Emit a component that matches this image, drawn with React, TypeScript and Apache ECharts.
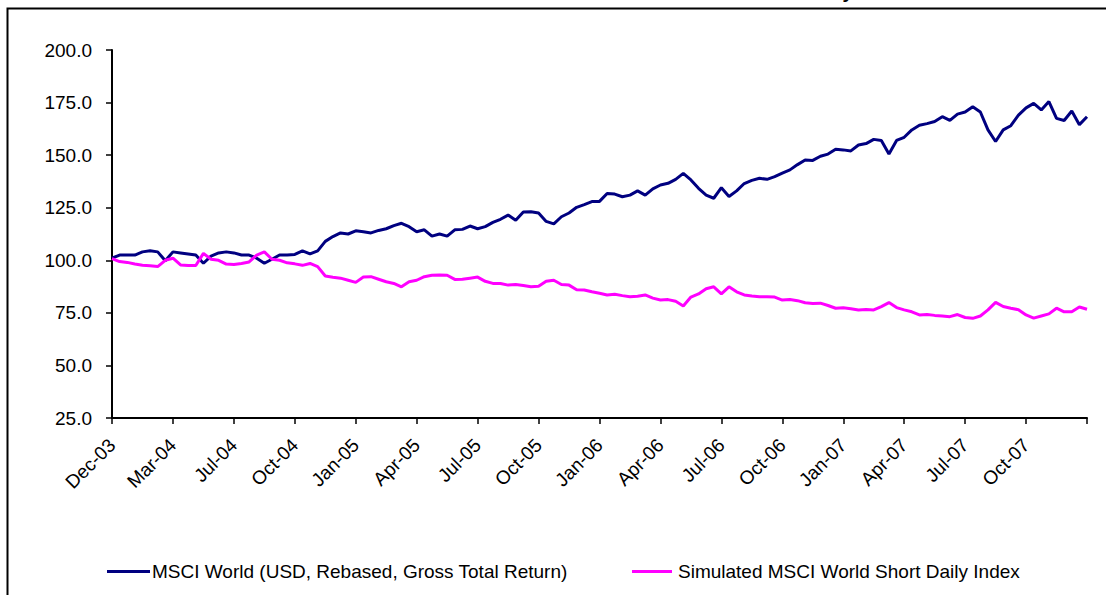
import React, { useEffect, useRef } from "react";
import * as echarts from "echarts";

const tickLabels = [
  "Dec-03", "Mar-04", "Jul-04", "Oct-04", "Jan-05", "Apr-05", "Jul-05", "Oct-05",
  "Jan-06", "Apr-06", "Jul-06", "Oct-06", "Jan-07", "Apr-07", "Jul-07", "Oct-07",
];

const msciWorld = [
  101, 102.5, 102.5, 102.5, 104, 104.5, 104, 99.8, 104, 103.5, 103, 102.5, 98.6, 102, 103.5, 104,
  103.5, 102.5, 102.5, 101, 98.6, 100.5, 102.5, 102.5, 102.8, 104.5, 103, 104.5, 109, 111.3, 113, 112.5,
  114, 113.6, 113, 114.2, 115, 116.5, 117.6, 116, 113.6, 114.5, 111.5, 112.5, 111.5, 114.5, 114.7, 116.3,
  115, 116, 118, 119.5, 121.5, 119, 123, 123.1, 122.5, 118.5, 117.3, 120.7, 122.5, 125.2, 126.5, 127.9,
  128, 131.8, 131.5, 130.2, 131, 133, 131, 134, 135.8, 136.6, 138.5, 141.3, 138.2, 134.2, 131, 129.5,
  134.5, 130.3, 133, 136.5, 138, 139, 138.5, 139.8, 141.5, 143, 145.5, 147.7, 147.5, 149.5, 150.5, 152.8,
  152.5, 152, 154.8, 155.5, 157.5, 157, 150.5, 157, 158.5, 162, 164.2, 165, 166, 168.3, 166.5, 169.5,
  170.5, 173, 170.5, 162, 156.5, 162, 164, 169, 172.5, 174.6, 171.5, 175.5, 167.5, 166.5, 171, 164.5,
  168.3,
];

const shortDaily = [
  100.8, 99.4, 99, 98.2, 97.6, 97.4, 97, 100, 101, 97.8, 97.5, 97.5, 103.3, 100.5, 100, 98.2,
  98, 98.5, 99.2, 102.5, 104, 100.5, 100, 98.8, 98.3, 97.6, 98.5, 97, 92.5, 91.9, 91.5, 90.5,
  89.5, 92, 92.2, 91, 89.8, 89, 87.4, 89.8, 90.5, 92.2, 92.9, 93, 92.9, 90.9, 91, 91.5,
  92, 90, 89, 89, 88.2, 88.5, 88, 87.4, 87.6, 90, 90.5, 88.5, 88.2, 86, 85.9, 85,
  84.3, 83.5, 83.8, 83.2, 82.7, 82.9, 83.5, 82, 81.1, 81.3, 80.5, 78.3, 82.5, 84, 86.5, 87.4,
  84, 87.4, 85, 83.5, 83, 82.7, 82.7, 82.5, 81.1, 81.3, 80.8, 79.8, 79.5, 79.6, 78.5, 77.2,
  77.4, 77, 76.4, 76.6, 76.4, 78, 79.9, 77.5, 76.4, 75.5, 74, 74.2, 73.8, 73.5, 73.2, 74.2,
  72.8, 72.4, 73.5, 76.4, 80, 78, 77.2, 76.5, 74, 72.5, 73.5, 74.5, 77.2, 75.5, 75.5, 77.8,
  76.7,
];

const seriesNames = [
  "MSCI World (USD, Rebased, Gross Total Return)",
  "Simulated MSCI World Short Daily Index",
];

const POINTS_PER_TICK = 8;
const FONT = "'Liberation Sans', Arial, sans-serif";

export default function App() {
  const ref = useRef<HTMLDivElement>(null);
  useEffect(() => {
    document.body.style.margin = "0";
    const chart = echarts.init(ref.current!, null, { renderer: "svg" });
    const categories = msciWorld.map((_, i) => String(i));
    chart.setOption({
      animation: false,
      backgroundColor: "#ffffff",
      textStyle: { fontFamily: FONT },
      grid: { left: 112, right: 19, top: 50, bottom: 177, containLabel: false },
      graphic: [
        {
          type: "rect",
          shape: { x: 7.5, y: 8.5, width: 1300, height: 800 },
          style: { fill: "none", stroke: "#000000", lineWidth: 2 },
          silent: true,
        },
        {
          type: "text",
          x: 853,
          y: 1,
          style: {
            text: "MSCI World vs. Simulated MSCI World Short Daily",
            fontFamily: FONT,
            fontSize: 19,
            fontWeight: "bold",
            fill: "#000000",
            align: "right",
            verticalAlign: "bottom",
          },
        },
      ],
      xAxis: {
        type: "category",
        data: categories,
        boundaryGap: false,
        axisLine: { lineStyle: { color: "#000000", width: 2 } },
        axisTick: {
          interval: POINTS_PER_TICK - 1,
          length: 6,
          lineStyle: { color: "#000000", width: 1.5 },
        },
        axisLabel: {
          interval: POINTS_PER_TICK - 1,
          rotate: 45,
          margin: 24,
          color: "#000000",
          fontSize: 19,
          fontFamily: FONT,
          formatter: (v: string) => {
            const i = Number(v);
            return i % POINTS_PER_TICK === 0 ? tickLabels[i / POINTS_PER_TICK] ?? "" : "";
          },
        },
        splitLine: { show: false },
      },
      yAxis: {
        type: "value",
        min: 25,
        max: 200,
        interval: 25,
        axisLine: { show: true, lineStyle: { color: "#000000", width: 2 } },
        axisTick: { show: true, length: 6, lineStyle: { color: "#000000", width: 1.5 } },
        axisLabel: {
          margin: 20,
          color: "#000000",
          fontSize: 19,
          fontFamily: FONT,
          formatter: (v: number) => v.toFixed(1),
        },
        splitLine: { show: false },
      },
      legend: [
        {
          data: [seriesNames[0]],
          left: 107,
          top: 562,
          padding: 0,
          icon: "rect",
          itemWidth: 43,
          itemHeight: 3,
          itemGap: 0,
          textStyle: { fontSize: 19, color: "#000000", fontFamily: FONT, padding: [0, 0, 0, -3] },
        },
        {
          data: [seriesNames[1]],
          left: 632,
          top: 562,
          padding: 0,
          icon: "rect",
          itemWidth: 40,
          itemHeight: 3,
          itemGap: 0,
          textStyle: { fontSize: 19, color: "#000000", fontFamily: FONT, padding: [0, 0, 0, 1] },
        },
      ],
      series: [
        {
          name: seriesNames[0],
          type: "line",
          data: msciWorld,
          showSymbol: false,
          symbol: "none",
          color: "#000080",
          lineStyle: { color: "#000080", width: 3 },
        },
        {
          name: seriesNames[1],
          type: "line",
          data: shortDaily,
          showSymbol: false,
          symbol: "none",
          color: "#FF00FF",
          lineStyle: { color: "#FF00FF", width: 3 },
        },
      ],
    });
    return () => chart.dispose();
  }, []);
  return <div ref={ref} style={{ width: 1106, height: 595 }} />;
}
